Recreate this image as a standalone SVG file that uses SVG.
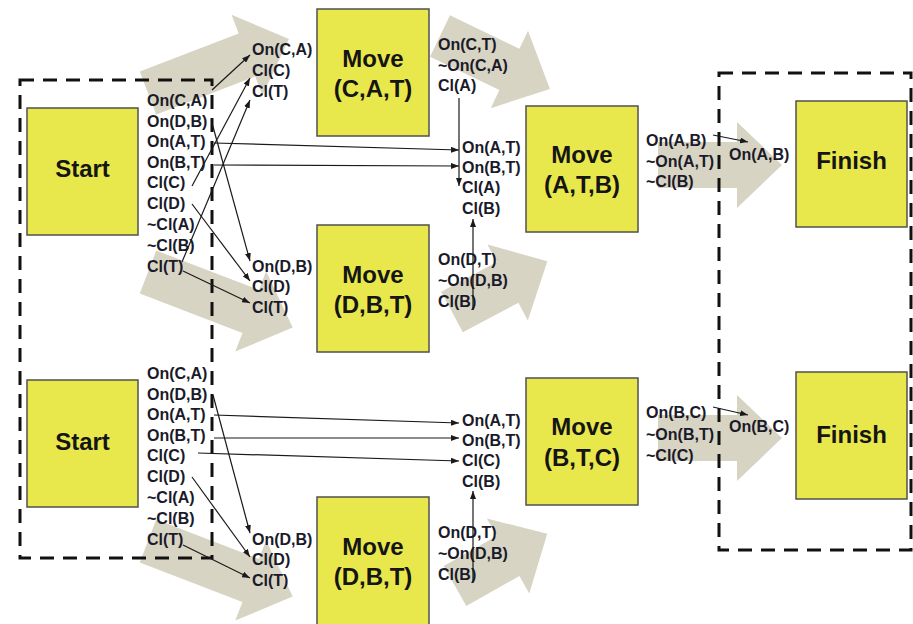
<svg xmlns="http://www.w3.org/2000/svg" width="913" height="624" viewBox="0 0 913 624">
<defs>
<style>
.bg{fill:#ffffff}
.fat{fill:#d8d4c3}
.box{fill:#e8e84c;stroke:#505050;stroke-width:1.5}
.dash{fill:none;stroke:#111;stroke-width:3;stroke-dasharray:14 9}
.big{font-family:"Liberation Sans",Arial,sans-serif;font-weight:bold;font-size:24px;fill:#151515;text-anchor:middle}
.lbl{font-family:"Liberation Sans",Arial,sans-serif;font-weight:bold;font-size:16px;fill:#1a1a2a}
.con{fill:none;stroke:#1a1a1a;stroke-width:1.2;marker-end:url(#ah)}
</style>
<marker id="ah" markerUnits="userSpaceOnUse" markerWidth="8" markerHeight="6" refX="8" refY="3" orient="auto">
<path d="M0,0 L8,3 L0,6 z" fill="#1a1a1a"/>
</marker>
<polygon id="fa" points="0,-23 1,-23 1,-43 46,0 1,43 1,23 0,23"/>
</defs>
<rect class="bg" x="0" y="0" width="913" height="624"/>

<g id="flow-arrows" class="fat">
<polygon points="0,-23 106,-23 106,-43 151,0 106,43 106,23 0,23" transform="translate(148,93) rotate(-21)"/>
<polygon points="0,-23 110,-23 110,-43 155,0 110,43 110,23 0,23" transform="translate(148,272) rotate(21)"/>
<polygon points="0,-23 110,-23 110,-43 155,0 110,43 110,23 0,23" transform="translate(148,541) rotate(21)"/>
<polygon points="0,-23 77,-23 77,-43 122,0 77,43 77,23 0,23" transform="translate(440,36) rotate(25.7)"/>
<polygon points="0,-23 63,-23 63,-43 108,0 63,43 63,23 0,23" transform="translate(452,312) rotate(-28)"/>
<polygon points="0,-23 61,-23 61,-43 106,0 61,43 61,23 0,23" transform="translate(455,586) rotate(-29.5)"/>
<polygon points="0,-23 79,-23 79,-43 124,0 79,43 79,23 0,23" transform="translate(658,165)"/>
<polygon points="0,-23 79,-23 79,-43 124,0 79,43 79,23 0,23" transform="translate(658,438)"/>
</g>

<g id="groups">
<path class="dash" d="M20,80 H212 V558 H20 Z"/>
<rect class="dash" x="719" y="73" width="192" height="477"/>
</g>

<g id="start1">
<rect class="box" x="27" y="108" width="111" height="127"/>
<text class="big" x="82.5" y="177">Start</text>
<text class="lbl" x="147" y="106">On(C,A)</text>
<text class="lbl" x="147" y="127">On(D,B)</text>
<text class="lbl" x="147" y="147">On(A,T)</text>
<text class="lbl" x="147" y="168">On(B,T)</text>
<text class="lbl" x="147" y="188">Cl(C)</text>
<text class="lbl" x="147" y="209">Cl(D)</text>
<text class="lbl" x="147" y="230">~Cl(A)</text>
<text class="lbl" x="147" y="251">~Cl(B)</text>
<text class="lbl" x="147" y="272">Cl(T)</text>
</g>

<g id="start2">
<rect class="box" x="27" y="380" width="111" height="127"/>
<text class="big" x="82.5" y="450">Start</text>
<text class="lbl" x="147" y="379">On(C,A)</text>
<text class="lbl" x="147" y="400">On(D,B)</text>
<text class="lbl" x="147" y="420">On(A,T)</text>
<text class="lbl" x="147" y="441">On(B,T)</text>
<text class="lbl" x="147" y="461">Cl(C)</text>
<text class="lbl" x="147" y="482">Cl(D)</text>
<text class="lbl" x="147" y="503">~Cl(A)</text>
<text class="lbl" x="147" y="524">~Cl(B)</text>
<text class="lbl" x="147" y="545">Cl(T)</text>
</g>

<g id="move-cat">
<rect class="box" x="317" y="9" width="112" height="127"/>
<text class="big" x="373" y="67">Move</text>
<text class="big" x="373" y="97">(C,A,T)</text>
<text class="lbl" x="252" y="55">On(C,A)</text>
<text class="lbl" x="252" y="76">Cl(C)</text>
<text class="lbl" x="252" y="97">Cl(T)</text>
<text class="lbl" x="438" y="50">On(C,T)</text>
<text class="lbl" x="438" y="71">~On(C,A)</text>
<text class="lbl" x="438" y="91">Cl(A)</text>
</g>

<g id="move-dbt-1">
<rect class="box" x="317" y="225" width="112" height="127"/>
<text class="big" x="373" y="283">Move</text>
<text class="big" x="373" y="313">(D,B,T)</text>
<text class="lbl" x="252" y="272">On(D,B)</text>
<text class="lbl" x="252" y="292">Cl(D)</text>
<text class="lbl" x="252" y="313">Cl(T)</text>
<text class="lbl" x="438" y="265">On(D,T)</text>
<text class="lbl" x="438" y="286">~On(D,B)</text>
<text class="lbl" x="438" y="307">Cl(B)</text>
</g>

<g id="move-atb">
<rect class="box" x="526" y="106" width="112" height="126"/>
<text class="big" x="582" y="163">Move</text>
<text class="big" x="582" y="193">(A,T,B)</text>
<text class="lbl" x="462" y="153">On(A,T)</text>
<text class="lbl" x="462" y="173">On(B,T)</text>
<text class="lbl" x="462" y="193">Cl(A)</text>
<text class="lbl" x="462" y="214">Cl(B)</text>
<text class="lbl" x="646" y="146">On(A,B)</text>
<text class="lbl" x="646" y="167">~On(A,T)</text>
<text class="lbl" x="646" y="187">~Cl(B)</text>
</g>

<g id="finish1">
<rect class="box" x="796" y="101" width="111" height="126"/>
<text class="big" x="851.5" y="169">Finish</text>
<text class="lbl" x="729" y="160">On(A,B)</text>
</g>

<g id="move-btc">
<rect class="box" x="526" y="378" width="112" height="127"/>
<text class="big" x="582" y="435">Move</text>
<text class="big" x="582" y="466">(B,T,C)</text>
<text class="lbl" x="462" y="426">On(A,T)</text>
<text class="lbl" x="462" y="446">On(B,T)</text>
<text class="lbl" x="462" y="466">Cl(C)</text>
<text class="lbl" x="462" y="487">Cl(B)</text>
<text class="lbl" x="646" y="418">On(B,C)</text>
<text class="lbl" x="646" y="440">~On(B,T)</text>
<text class="lbl" x="646" y="461">~Cl(C)</text>
</g>

<g id="move-dbt-2">
<rect class="box" x="317" y="497" width="112" height="140"/>
<text class="big" x="373" y="555">Move</text>
<text class="big" x="373" y="585">(D,B,T)</text>
<text class="lbl" x="252" y="545">On(D,B)</text>
<text class="lbl" x="252" y="565">Cl(D)</text>
<text class="lbl" x="252" y="586">Cl(T)</text>
<text class="lbl" x="438" y="538">On(D,T)</text>
<text class="lbl" x="438" y="559">~On(D,B)</text>
<text class="lbl" x="438" y="580">Cl(B)</text>
</g>

<g id="finish2">
<rect class="box" x="796" y="372" width="111" height="127"/>
<text class="big" x="851.5" y="443">Finish</text>
<text class="lbl" x="729" y="432">On(B,C)</text>
</g>

<g id="connectors">
<line class="con" x1="212" y1="90" x2="250" y2="55"/>
<line class="con" x1="192" y1="186" x2="250" y2="78"/>
<line class="con" x1="182" y1="262" x2="250" y2="100"/>
<line class="con" x1="212" y1="123" x2="250" y2="261"/>
<line class="con" x1="192" y1="204" x2="250" y2="281"/>
<line class="con" x1="183" y1="271" x2="250" y2="303"/>
<line class="con" x1="214" y1="143" x2="459" y2="150"/>
<line class="con" x1="214" y1="165" x2="459" y2="166"/>
<line class="con" x1="459" y1="98" x2="459" y2="186"/>
<line class="con" x1="473" y1="310" x2="473" y2="219"/>
<line class="con" x1="713" y1="135" x2="748" y2="142"/>
<line class="con" x1="213" y1="395" x2="250" y2="533"/>
<line class="con" x1="192" y1="477" x2="250" y2="557"/>
<line class="con" x1="183" y1="545" x2="250" y2="578"/>
<line class="con" x1="214" y1="415" x2="459" y2="423"/>
<line class="con" x1="214" y1="438" x2="459" y2="438"/>
<line class="con" x1="198" y1="453" x2="459" y2="461"/>
<line class="con" x1="473" y1="582" x2="473" y2="491"/>
<line class="con" x1="713" y1="407" x2="748" y2="415"/>
</g>
</svg>
